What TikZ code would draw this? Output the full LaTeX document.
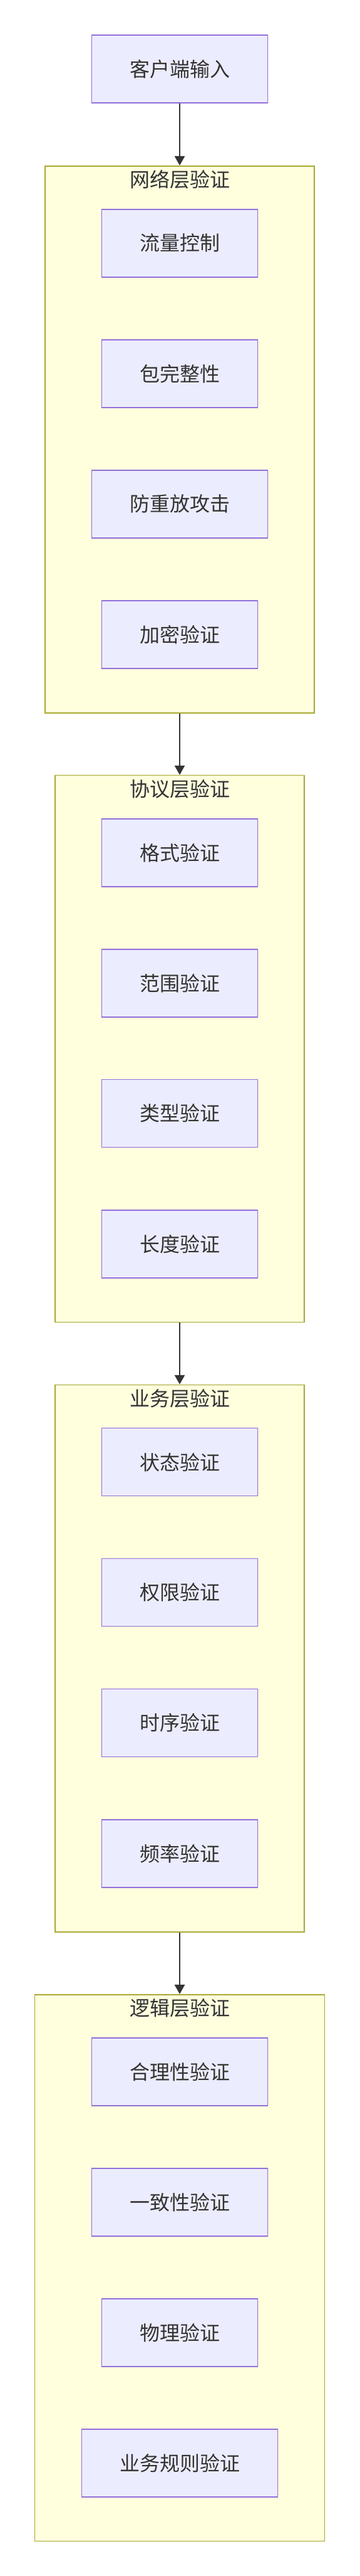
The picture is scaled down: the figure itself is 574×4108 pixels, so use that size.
\documentclass[tikz,border=0pt]{standalone}
\usepackage{fontspec}
\newfontfamily\cjk{Noto Sans CJK SC}
\usetikzlibrary{arrows.meta}
\definecolor{nodefill}{HTML}{ECECFF}
\definecolor{nodestroke}{HTML}{9370DB}
\definecolor{clfill}{HTML}{FFFFDE}
\definecolor{clstroke}{HTML}{AAAA33}
\definecolor{txt}{HTML}{333333}
\begin{document}
\begin{tikzpicture}[x=1pt,y=-1pt,
  vbox/.style={draw=nodestroke, fill=nodefill, line width=1.5pt, minimum height=108pt, inner sep=0pt, text=txt, font=\cjk\fontsize{32}{38}\selectfont},
  cluster/.style={draw=clstroke, fill=clfill, line width=1.7pt, inner sep=0pt, anchor=north},
  ctitle/.style={text=txt, font=\cjk\fontsize{32}{38}\selectfont, inner sep=0pt},
  arr/.style={draw=txt, line width=2pt, -{Triangle[length=14.7pt,width=16pt]}}]
\useasboundingbox[fill=white] (0,0) rectangle (574,4108);

% client
\node[vbox, minimum width=281pt] (client) at (287,110) {客户端输入};

% network layer
\node[cluster, minimum width=430.5pt, minimum height=872.4pt] (net) at (287,263.8) {};
\node[ctitle] (netT) at (287,286.7) {网络层验证};
\node[vbox, minimum width=249pt] (n1) at (287,387.8) {流量控制};
\node[vbox, minimum width=249pt] (n2) at (287,596) {包完整性};
\node[vbox, minimum width=281pt] (n3) at (287,803.8) {防重放攻击};
\node[vbox, minimum width=249pt] (n4) at (287,1011.8) {加密验证};

% protocol layer
\node[cluster, minimum width=398pt, minimum height=871.9pt] (proto) at (287,1235.7) {};
\node[ctitle] (protoT) at (287,1258.6) {协议层验证};
\node[vbox, minimum width=249pt] (p1) at (287,1359.8) {格式验证};
\node[vbox, minimum width=249pt] (p2) at (287,1567.8) {范围验证};
\node[vbox, minimum width=249pt] (p3) at (287,1775.6) {类型验证};
\node[vbox, minimum width=249pt] (p4) at (287,1983.9) {长度验证};

% business layer
\node[cluster, minimum width=398pt, minimum height=872.3pt] (biz) at (287,2207.6) {};
\node[ctitle] (bizT) at (287,2230.8) {业务层验证};
\node[vbox, minimum width=249pt] (b1) at (287,2331.7) {状态验证};
\node[vbox, minimum width=249pt] (b2) at (287,2539.5) {权限验证};
\node[vbox, minimum width=249pt] (b3) at (287,2747.5) {时序验证};
\node[vbox, minimum width=249pt] (b4) at (287,2955.8) {频率验证};

% logic layer
\node[cluster, minimum width=463pt, minimum height=871.8pt] (logic) at (287,3179.9) {};
\node[ctitle] (logicT) at (287,3202.5) {逻辑层验证};
\node[vbox, minimum width=281pt] (l1) at (287,3303.8) {合理性验证};
\node[vbox, minimum width=281pt] (l2) at (287,3511.8) {一致性验证};
\node[vbox, minimum width=249pt] (l3) at (287,3719.8) {物理验证};
\node[vbox, minimum width=313pt] (l4) at (287,3927.8) {业务规则验证};

% connectors
\draw[arr] (client.south) -- (net.north);
\draw[arr] (net.south) -- (proto.north);
\draw[arr] (proto.south) -- (biz.north);
\draw[arr] (biz.south) -- (logic.north);
\end{tikzpicture}
\end{document}
